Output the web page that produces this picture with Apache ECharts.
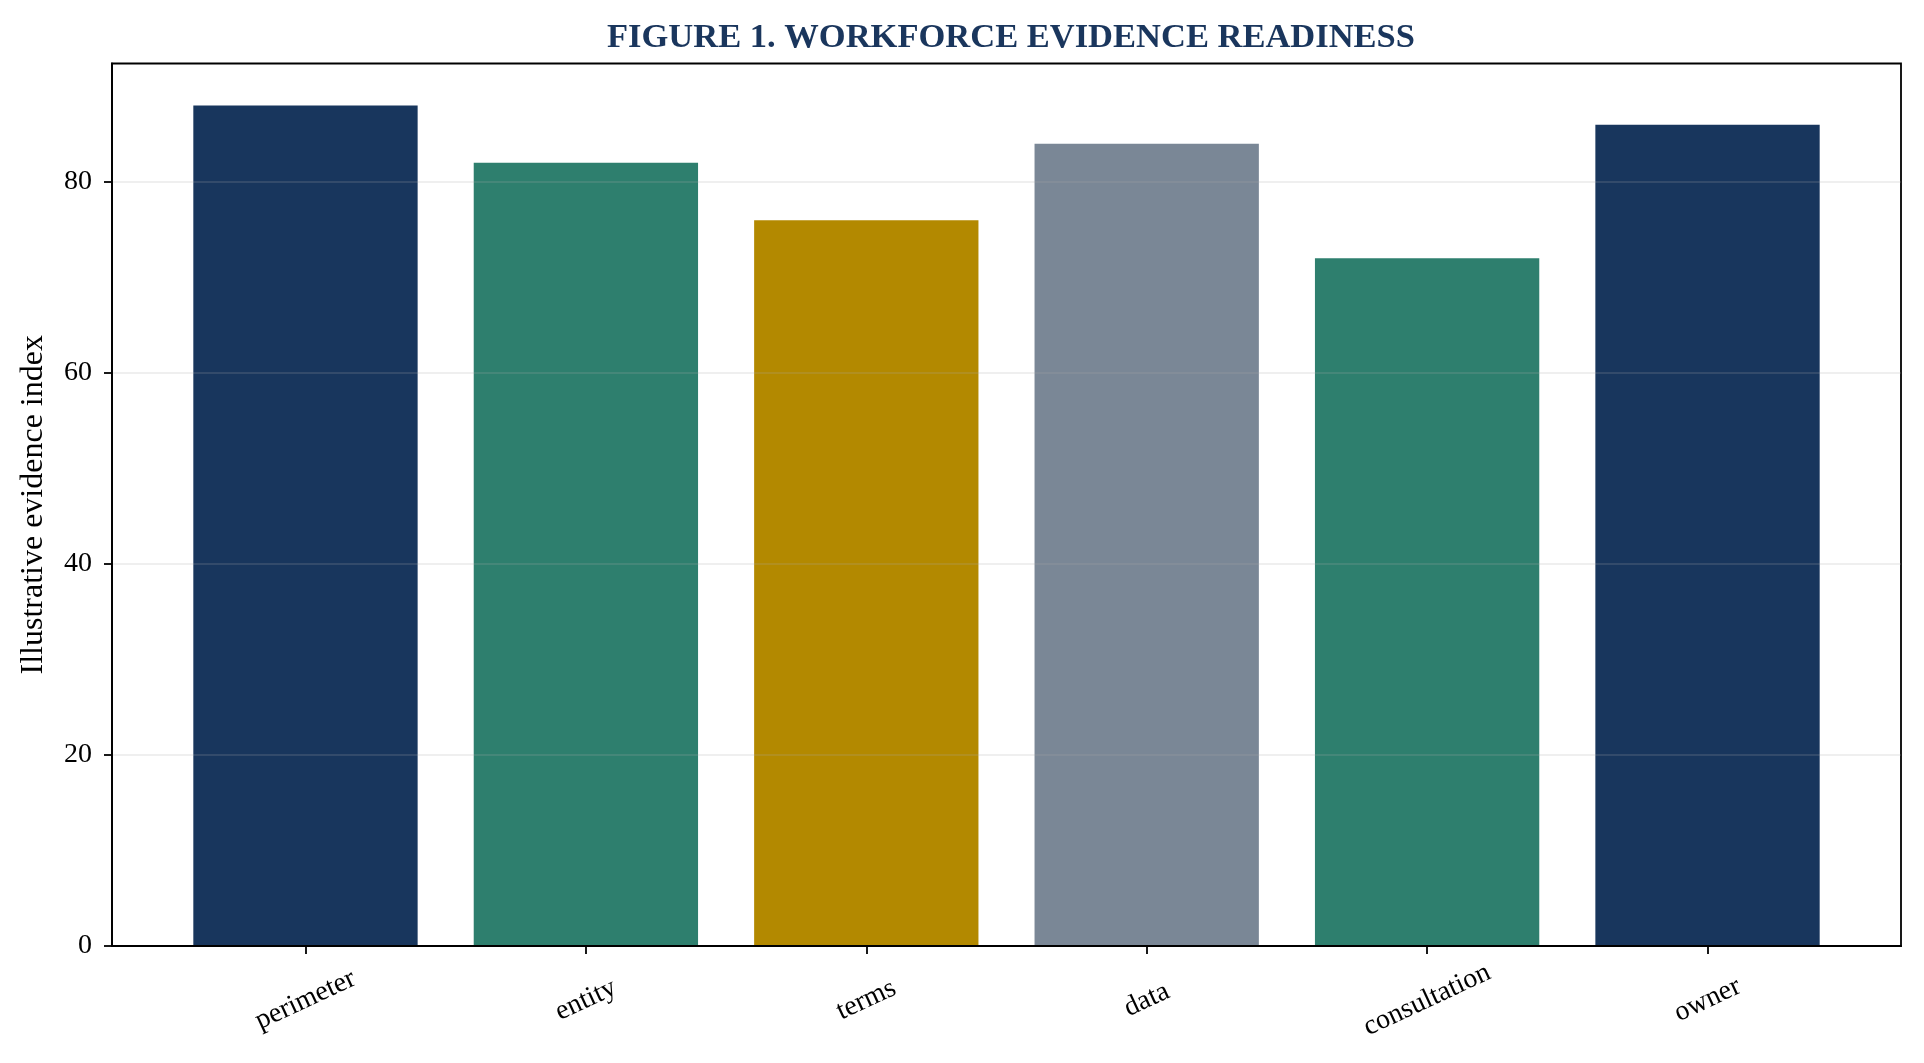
<!DOCTYPE html>
<html>
<head>
<meta charset="utf-8">
<script src="https://cdn.jsdelivr.net/npm/echarts@6/dist/echarts.min.js"></script>
<style>
html,body{margin:0;padding:0;background:#fff;}
#chart{width:1924px;height:1063px;}
</style>
</head>
<body>
<div id="chart"></div>
<script>
const titleText = 'FIGURE 1. WORKFORCE EVIDENCE READINESS';
const yAxisTitle = 'Illustrative evidence index';
const categories = ['perimeter', 'entity', 'terms', 'data', 'consultation', 'owner'];
const values = [88, 82, 76, 84, 72, 86];
const barColors = ['#18365d', '#2e7f6e', '#b38900', '#7a8796', '#2e7f6e', '#18365d'];
const yTicks = [0, 20, 40, 60, 80];
const xTicks = [0, 1, 2, 3, 4, 5];

const FONT = "'Liberation Serif', 'Times New Roman', serif";
const chart = echarts.init(document.getElementById('chart'), null, {renderer: 'canvas'});

const option = {
  backgroundColor: '#ffffff',
  animation: false,
  title: {
    text: titleText,
    left: 1006,
    textAlign: 'center',
    top: 16,
    textStyle: {fontFamily: FONT, fontSize: 34.5, fontWeight: 'bold', color: '#1a365d'}
  },
  grid: {
    left: 112, right: 23, top: 63.5, bottom: 117,
    show: true, borderColor: '#000', borderWidth: 1.8, backgroundColor: 'transparent'
  },
  xAxis: {
    type: 'value',
    min: -0.69,
    max: 5.69,
    z: 4,
    axisLine: {show: true, onZero: false, lineStyle: {color: '#000', width: 1.8}},
    axisTick: {show: true, customValues: xTicks, length: 8, lineStyle: {color: '#000', width: 1.8}},
    axisLabel: {
      show: true,
      customValues: xTicks,
      formatter: v => categories[Math.round(v)] || '',
      rotate: 25,
      align: 'center',
      verticalAlign: 'middle',
      margin: 54,
      fontFamily: FONT, fontSize: 28, color: '#000'
    },
    splitLine: {show: false}
  },
  yAxis: {
    type: 'value',
    min: 0,
    max: 92.4,
    interval: 20,
    z: 4,
    name: yAxisTitle,
    nameLocation: 'middle',
    nameGap: 62,
    nameTextStyle: {fontFamily: FONT, fontSize: 32, color: '#000'},
    axisLine: {show: true, onZero: false, lineStyle: {color: '#000', width: 1.8}},
    axisTick: {show: true, customValues: yTicks, length: 8, lineStyle: {color: '#000', width: 1.8}},
    axisLabel: {customValues: yTicks, margin: 20, fontFamily: FONT, fontSize: 28, color: '#000'},
    splitLine: {show: true, lineStyle: {color: 'rgba(170,170,170,0.25)', width: 1.6}}
  },
  series: [{
    type: 'bar',
    barWidth: '80%',
    z: 2,
    data: categories.map((c, i) => ({value: [i, values[i]], itemStyle: {color: barColors[i]}}))
  }]
};
chart.setOption(option);
</script>
</body>
</html>
